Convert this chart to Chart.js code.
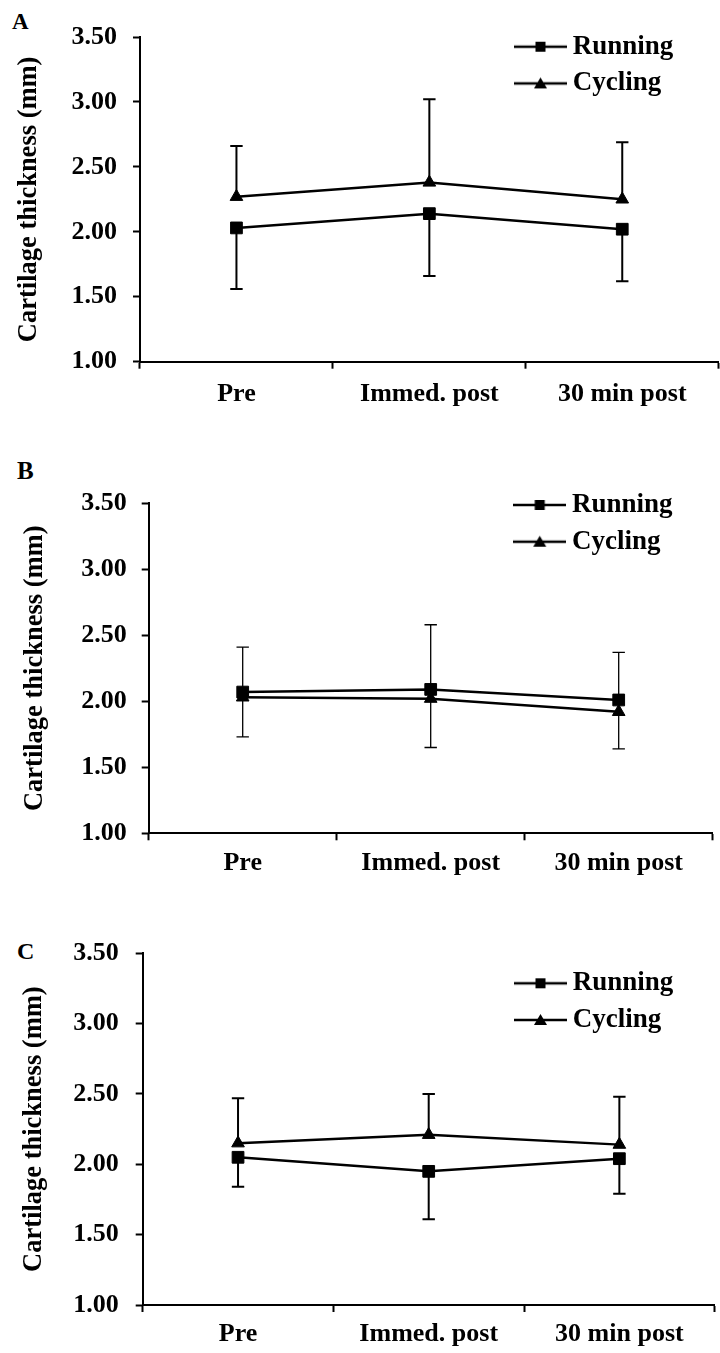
<!DOCTYPE html>
<html>
<head>
<meta charset="utf-8">
<script src="https://cdn.jsdelivr.net/npm/chart.js@4.4.0/dist/chart.umd.min.js"></script>
<style>
html, body { margin: 0; padding: 0; background: #fff; overflow: hidden; width: 720px; height: 1353px; }
canvas { position: absolute; left: 0; }
.lab { position: absolute; font-family: "Liberation Serif", serif; font-weight: bold; line-height: 1; color: #000; }
</style>
</head>
<body>
<div class="lab" style="left:12px;top:10px;font-size:23px">A</div>
<div class="lab" style="left:17px;top:458px;font-size:25px">B</div>
<div class="lab" style="left:17px;top:939px;font-size:24px">C</div>
<canvas id="cA" width="728" height="450" style="top:0px"></canvas>
<canvas id="cB" width="722" height="460" style="top:450px"></canvas>
<canvas id="cC" width="724" height="443" style="top:910px"></canvas>
<script>
// shared axes
var timepoints = ["Pre", "Immed. post", "30 min post"];
var yTicks = [1.00, 1.50, 2.00, 2.50, 3.00, 3.50];
var yTitle = "Cartilage thickness (mm)";

// panel A  (running bars go down, cycling bars go up)
var runA = [2.03, 2.14, 2.02];
var runErrA = [0.47, 0.48, 0.40];
var cycA = [2.27, 2.38, 2.25];
var cycErrA = [0.39, 0.64, 0.44];

// panel B
var runB = [2.07, 2.09, 2.01];
var runErrB = [0.34, 0.44, 0.37];
var cycB = [2.03, 2.02, 1.92];
var cycErrB = [0.38, 0.56, 0.45];

// panel C
var runC = [2.05, 1.95, 2.04];
var runErrC = [0.21, 0.34, 0.25];
var cycC = [2.15, 2.21, 2.14];
var cycErrC = [0.32, 0.29, 0.34];

var LEG_FONT = 27;

Chart.defaults.font.family = '"Liberation Serif", "Times New Roman", serif';
Chart.defaults.font.weight = 'bold';
Chart.defaults.font.size = 26;
Chart.defaults.color = '#000';

function legendIcon(shape) {
    var c = document.createElement('canvas');
    c.width = 53; c.height = 16;
    var g = c.getContext('2d');
    g.fillStyle = '#000'; g.strokeStyle = '#000'; g.lineWidth = 2.7;
    g.beginPath(); g.moveTo(0, 8); g.lineTo(53, 8); g.stroke();
    if (shape == 'rect') {
        g.fillRect(21.5, 3, 10, 10);
    } else {
        g.beginPath(); g.moveTo(26.5, 2); g.lineTo(33, 13); g.lineTo(20, 13); g.closePath(); g.fill();
    }
    return c;
}
var icons = [legendIcon('rect'), legendIcon('triangle')];

var errorBars = {
    id: 'errorBars',
    beforeDatasetsDraw: function(chart, args, opts) {
        var ctx = chart.ctx, ys = chart.scales.y;
        ctx.save();
        ctx.strokeStyle = '#000';
        ctx.lineWidth = opts.width;
        chart.data.datasets.forEach(function(ds, i) {
            chart.getDatasetMeta(i).data.forEach(function(pt, j) {
                var py = ys.getPixelForValue(ds.data[j] + ds.errDir * ds.err[j]);
                ctx.beginPath();
                ctx.moveTo(pt.x, pt.y); ctx.lineTo(pt.x, py);
                ctx.moveTo(pt.x - opts.cap, py); ctx.lineTo(pt.x + opts.cap, py);
                ctx.stroke();
            });
        });
        ctx.restore();
    }
};

// put the legend where it sits in the figure (inside the plot, upper right)
var legendPlace = {
    id: 'legendPlace',
    afterLayout: function(chart, args, opts) {
        var lg = chart.legend;
        var pad = lg.options.labels.padding;
        lg.left = opts.x - pad;
        lg.top = opts.y - LEG_FONT / 2 - pad;
        lg.bottom = lg.top + 300;
    }
};

function panel(id, g, run, runErr, cyc, cycErr) {
    var ctx = document.getElementById(id).getContext('2d');
    return new Chart(ctx, {
        type: 'line',
        data: {
            labels: timepoints,
            datasets: [{
                label: 'Running', data: run, err: runErr, errDir: -1,
                borderColor: '#000', backgroundColor: '#000', borderWidth: 2.5,
                pointStyle: 'rect', pointRadius: 8.3, pointBorderWidth: 1, tension: 0
            }, {
                label: 'Cycling', data: cyc, err: cycErr, errDir: 1,
                borderColor: '#000', backgroundColor: '#000', borderWidth: 2.5,
                pointStyle: 'triangle', pointRadius: 7.3, pointBorderWidth: 1, tension: 0
            }]
        },
        options: {
            responsive: false,
            animation: false,
            layout: { padding: { top: g.top, left: 0, right: 0, bottom: 0 } },
            scales: {
                x: {
                    offset: true,
                    grid: { offset: true, drawOnChartArea: false, drawTicks: true, tickLength: 7, tickWidth: 2, tickColor: '#000' },
                    border: { display: true, color: '#000', width: 2 },
                    ticks: { padding: g.xPad, maxRotation: 0, font: { size: 26 } },
                    afterFit: function(s) { s.height = g.H - g.bottom; }
                },
                y: {
                    min: yTicks[0], max: yTicks[yTicks.length - 1],
                    afterBuildTicks: function(s) { s.ticks = yTicks.map(function(v) { return { value: v }; }); },
                    grid: { drawOnChartArea: false, drawTicks: true, tickLength: 7, tickWidth: 2, tickColor: '#000' },
                    border: { display: true, color: '#000', width: 2 },
                    ticks: { padding: g.yPad, font: { size: 26 }, callback: function(v) { return Number(v).toFixed(2); } },
                    title: { display: true, text: yTitle, font: { size: 26.5 }, padding: { top: g.titlePad, bottom: 0 } },
                    afterFit: function(s) { s.width = g.axisX; }
                }
            },
            plugins: {
                legend: {
                    position: 'chartArea',
                    align: 'start',
                    labels: {
                        usePointStyle: true, pointStyleWidth: 37.4, padding: 9.7,
                        font: { size: LEG_FONT },
                        generateLabels: function(chart) {
                            var items = Chart.defaults.plugins.legend.labels.generateLabels(chart);
                            items.forEach(function(it, i) { it.pointStyle = icons[i]; });
                            return items;
                        }
                    }
                },
                tooltip: { enabled: false },
                errorBars: { width: g.errW, cap: 6.2 },
                legendPlace: { x: g.legX, y: g.legY }
            }
        },
        plugins: [errorBars, legendPlace]
    });
}

panel('cA', { H: 450, axisX: 140, top: 37, bottom: 361.7, xPad: 10, yPad: 16, titlePad: 13, legX: 521.8, legY: 46.7, errW: 2 },
      runA, runErrA, cycA, cycErrA);
panel('cB', { H: 460, axisX: 148.7, top: 53.3, bottom: 383.3, xPad: 7, yPad: 15, titlePad: 19, legX: 521, legY: 55, errW: 1.3 },
      runB, runErrB, cycB, cycErrB);
panel('cC', { H: 443, axisX: 142.7, top: 43.3, bottom: 395, xPad: 7, yPad: 17, titlePad: 18, legX: 521.8, legY: 73.3, errW: 2 },
      runC, runErrC, cycC, cycErrC);
</script>
</body>
</html>
